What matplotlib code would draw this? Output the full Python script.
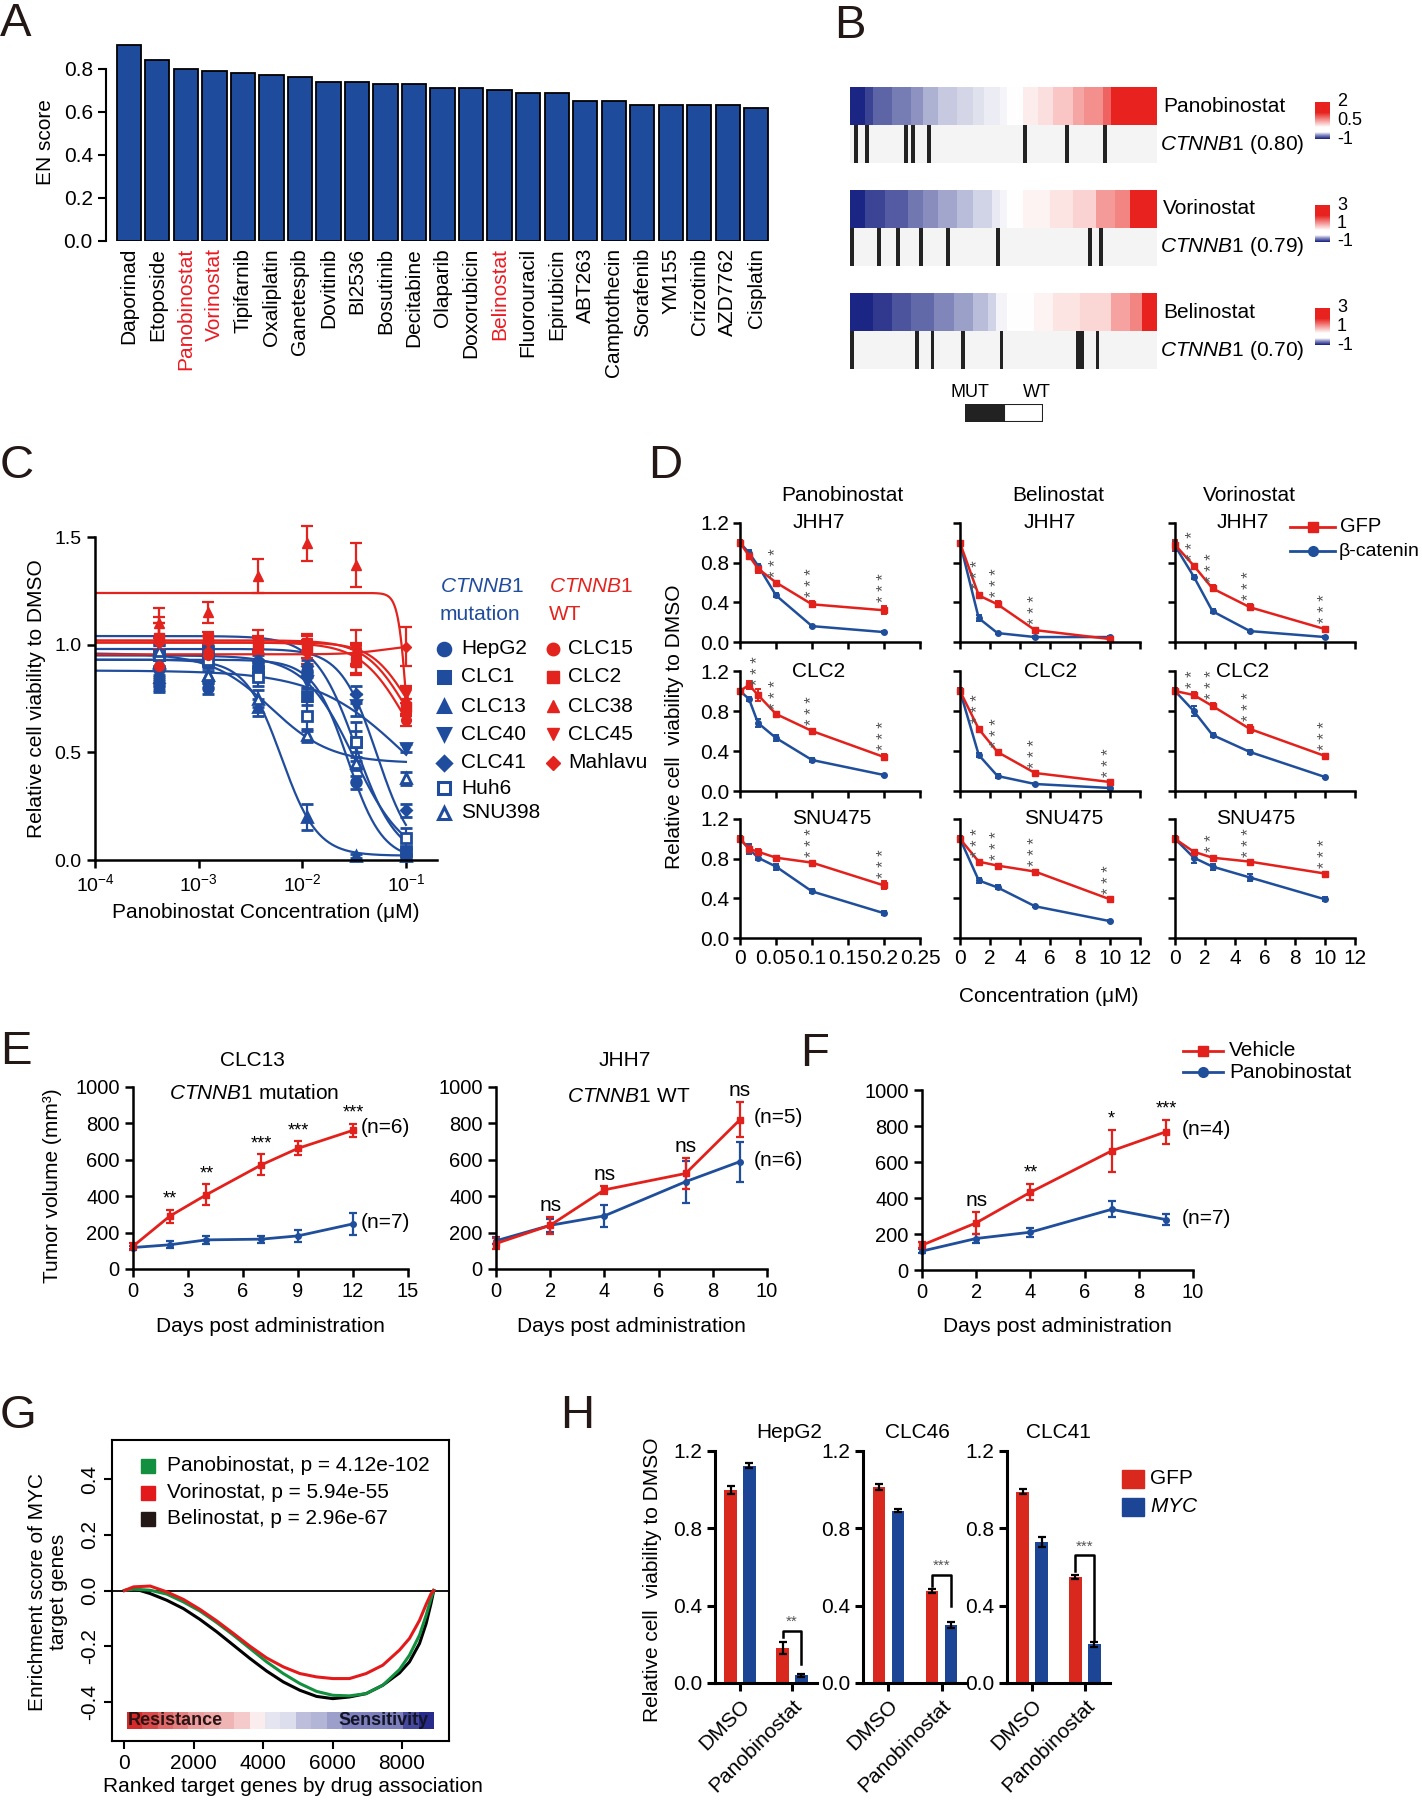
import numpy as np
import matplotlib
matplotlib.use('Agg')
import matplotlib.pyplot as plt
from matplotlib.colors import LinearSegmentedColormap, ListedColormap, TwoSlopeNorm
from matplotlib.lines import Line2D
from matplotlib.patches import Rectangle
from matplotlib.ticker import NullLocator

plt.rcParams['font.family'] = ['Liberation Sans', 'DejaVu Sans']
plt.rcParams['mathtext.fontset'] = 'custom'
plt.rcParams['mathtext.rm'] = 'Liberation Sans'
plt.rcParams['mathtext.it'] = 'Liberation Sans:italic'
plt.rcParams['mathtext.bf'] = 'Liberation Sans:bold'
plt.rcParams['font.size'] = 15
plt.rcParams['axes.linewidth'] = 1.8
plt.rcParams['xtick.major.width'] = 1.8
plt.rcParams['ytick.major.width'] = 1.8
plt.rcParams['xtick.major.size'] = 5
plt.rcParams['ytick.major.size'] = 5
plt.rcParams['xtick.labelsize'] = 15
plt.rcParams['ytick.labelsize'] = 15

RED = '#e3231d'
BLUE = '#1f4c9c'

# ---------------- data ----------------
# A: elastic net scores
a_drugs = ['Daporinad', 'Etoposide', 'Panobinostat', 'Vorinostat', 'Tipifarnib', 'Oxaliplatin',
           'Ganetespib', 'Dovitinib', 'BI2536', 'Bosutinib', 'Decitabine', 'Olaparib',
           'Doxorubicin', 'Belinostat', 'Fluorouracil', 'Epirubicin', 'ABT263', 'Camptothecin',
           'Sorafenib', 'YM155', 'Crizotinib', 'AZD7762', 'Cisplatin']
a_scores = [0.91, 0.84, 0.80, 0.79, 0.78, 0.77, 0.76, 0.74, 0.74, 0.73, 0.73, 0.71,
            0.71, 0.70, 0.69, 0.69, 0.65, 0.65, 0.63, 0.63, 0.63, 0.63, 0.62]
a_red = ['Panobinostat', 'Vorinostat', 'Belinostat']

# B: sorted drug response per cell line + CTNNB1 status
b_drugs = ['Panobinostat', 'Vorinostat', 'Belinostat']
b_corr = [0.80, 0.79, 0.70]
b_scale = [(-1, 0.5, 2), (-1, 1, 3), (-1, 1, 3)]
b_pano = [-1.0, -1.0, -1.0, -1.0, -0.78, -0.78, -0.55, -0.55, -0.55, -0.55,
          -0.55, -0.4, -0.4, -0.4, -0.4, -0.4, -0.25, -0.25, -0.25, -0.03,
          -0.03, -0.03, -0.03, 0.13, 0.13, 0.13, 0.13, 0.13, 0.23, 0.23,
          0.23, 0.23, 0.3, 0.3, 0.3, 0.38, 0.38, 0.38, 0.38, 0.44,
          0.44, 0.5, 0.5, 0.5, 0.5, 0.62, 0.62, 0.62, 0.62, 0.72,
          0.72, 0.72, 0.72, 0.88, 0.88, 0.88, 0.88, 0.88, 1.1, 1.1,
          1.1, 1.25, 1.25, 1.25, 1.25, 1.25, 1.55, 1.55, 2.0, 2.0,
          2.0, 2.0, 2.0, 2.0, 2.0, 2.0, 2.0, 2.0, 2.0, 2.0]
b_vori = [-1.0, -1.0, -1.0, -1.0, -0.7, -0.7, -0.7, -0.7, -0.7, -0.5,
          -0.5, -0.5, -0.5, -0.5, -0.5, -0.24, -0.24, -0.24, -0.24, -0.04,
          -0.04, -0.04, -0.04, 0.2, 0.2, 0.2, 0.2, 0.2, 0.4, 0.4,
          0.4, 0.4, 0.6, 0.6, 0.6, 0.6, 0.6, 0.8, 0.8, 0.92,
          0.92, 1.0, 1.0, 1.0, 1.0, 1.1, 1.1, 1.1, 1.1, 1.1,
          1.1, 1.1, 1.24, 1.24, 1.24, 1.24, 1.24, 1.24, 1.4, 1.4,
          1.4, 1.4, 1.4, 1.4, 1.9, 1.9, 1.9, 1.9, 1.9, 2.1,
          2.1, 2.1, 2.1, 3.0, 3.0, 3.0, 3.0, 3.0, 3.0, 3.0]
b_beli = [-1.0, -1.0, -1.0, -1.0, -1.0, -1.0, -0.8, -0.8, -0.8, -0.8,
          -0.8, -0.56, -0.56, -0.56, -0.56, -0.56, -0.36, -0.36, -0.36, -0.36,
          -0.36, -0.36, -0.1, -0.1, -0.1, -0.1, -0.1, 0.14, 0.14, 0.14,
          0.14, 0.14, 0.4, 0.4, 0.4, 0.4, 0.6, 0.6, 0.9, 0.9,
          0.9, 1.0, 1.0, 1.0, 1.0, 1.0, 1.0, 1.0, 1.1, 1.1,
          1.1, 1.1, 1.1, 1.24, 1.24, 1.24, 1.24, 1.24, 1.24, 1.24,
          1.36, 1.36, 1.36, 1.36, 1.36, 1.36, 1.36, 1.36, 1.84, 1.84,
          1.84, 1.84, 1.84, 2.1, 2.1, 2.1, 3.0, 3.0, 3.0, 3.0]
b_mut_pano = [1, 4, 14, 16, 20, 45, 56, 66]
b_mut_vori = [0, 7, 12, 18, 25, 38, 62, 65]
b_mut_beli = [0, 17, 21, 29, 39, 59, 60, 64]

# C: dose response (mean, sd) and fitted 4PL parameters [top, bottom, logIC50, hill]
c_conc = [0.00041, 0.00123, 0.0037, 0.0111, 0.0333, 0.1]
c_mut_names = ['HepG2', 'CLC1', 'CLC13', 'CLC40', 'CLC41', 'Huh6', 'SNU398']
c_mut_markers = ['o', 's', '^', 'v', 'D', 's', '^']
c_mut_filled = [True, True, True, True, True, False, False]
c_mut_vals = [[0.81, 0.80, 0.92, 0.88, 0.36, 0.03],
              [0.95, 0.97, 0.88, 0.76, 0.55, 0.04],
              [0.92, 0.86, 0.71, 0.20, 0.02, 0.02],
              [0.86, 0.92, 0.90, 0.83, 0.72, 0.52],
              [0.82, 0.93, 0.93, 0.90, 0.77, 0.23],
              [0.95, 0.93, 0.85, 0.67, 0.55, 0.10],
              [0.97, 0.86, 0.75, 0.58, 0.45, 0.38]]
c_mut_err = [[0.03, 0.03, 0.03, 0.03, 0.03, 0.02],
             [0.05, 0.04, 0.03, 0.04, 0.05, 0.02],
             [0.06, 0.04, 0.04, 0.06, 0.01, 0.01],
             [0.03, 0.03, 0.03, 0.03, 0.05, 0.02],
             [0.03, 0.03, 0.03, 0.03, 0.04, 0.03],
             [0.05, 0.05, 0.04, 0.07, 0.09, 0.05],
             [0.04, 0.04, 0.04, 0.03, 0.03, 0.03]]
c_mut_fit = [[0.93, 0.0, -1.56, 2.6],
             [1.04, 0.0, -1.48, 2.2],
             [0.93, 0.02, -2.2, 2.5],
             [0.88, 0.10, -1.0, 1.0],
             [0.98, 0.0, -1.28, 2.5],
             [0.95, 0.0, -1.5, 1.8],
             [0.96, 0.45, -2.3, 1.5]]
c_wt_names = ['CLC15', 'CLC2', 'CLC38', 'CLC45', 'Mahlavu']
c_wt_markers = ['o', 's', '^', 'v', 'D']
c_wt_vals = [[0.90, 0.95, 1.02, 1.00, 0.95, 0.65],
             [1.03, 1.03, 1.00, 0.98, 0.92, 0.71],
             [1.10, 1.15, 1.32, 1.47, 1.37, 0.75],
             [1.02, 1.01, 1.00, 1.01, 0.97, 0.77],
             [1.01, 0.97, 0.98, 0.96, 0.96, 0.99]]
c_wt_err = [[0.08, 0.04, 0.05, 0.04, 0.05, 0.03],
            [0.07, 0.03, 0.03, 0.04, 0.06, 0.04],
            [0.07, 0.05, 0.08, 0.08, 0.10, 0.05],
            [0.08, 0.03, 0.04, 0.04, 0.10, 0.04],
            [0.12, 0.04, 0.05, 0.05, 0.05, 0.09]]
c_wt_fit = [[1.01, 0.30, -1.0, 2.0],
            [1.02, 0.40, -1.0, 2.2],
            [1.24, 0.0, -0.98, 10.0],
            [1.01, 0.50, -1.0, 2.5],
            [0.955, 1.0, -1.2, 2.5]]

# D: viability GFP vs beta-catenin
d_drugs = ['Panobinostat', 'Belinostat', 'Vorinostat']
d_cells = ['JHH7', 'CLC2', 'SNU475']
d_conc = [[0, 0.0125, 0.025, 0.05, 0.1, 0.2], [0, 1.25, 2.5, 5, 10], [0, 1.25, 2.5, 5, 10]]
d_gfp = [[[1.0, 0.87, 0.74, 0.60, 0.38, 0.32], [1.0, 0.47, 0.38, 0.12, 0.03], [0.98, 0.77, 0.54, 0.35, 0.13]],
         [[1.0, 1.06, 0.96, 0.77, 0.60, 0.34], [1.0, 0.62, 0.39, 0.18, 0.09], [1.0, 0.96, 0.85, 0.62, 0.35]],
         [[1.0, 0.90, 0.87, 0.81, 0.76, 0.53], [1.0, 0.77, 0.73, 0.67, 0.39], [1.0, 0.87, 0.81, 0.77, 0.65]]]
d_bcat = [[[1.0, 0.90, 0.77, 0.47, 0.16, 0.10], [1.0, 0.24, 0.09, 0.05, 0.05], [0.97, 0.66, 0.31, 0.11, 0.05]],
          [[1.0, 0.92, 0.68, 0.53, 0.31, 0.16], [1.0, 0.36, 0.15, 0.07, 0.03], [1.0, 0.80, 0.56, 0.39, 0.14]],
          [[1.0, 0.90, 0.81, 0.72, 0.47, 0.25], [1.0, 0.58, 0.51, 0.32, 0.17], [1.0, 0.81, 0.72, 0.61, 0.39]]]
d_gfp_err = [[[0.03, 0.02, 0.04, 0.02, 0.03, 0.04], [0.02, 0.02, 0.03, 0.02, 0.01], [0.05, 0.02, 0.03, 0.03, 0.02]],
             [[0.02, 0.04, 0.06, 0.01, 0.02, 0.03], [0.03, 0.02, 0.01, 0.01, 0.01], [0.03, 0.03, 0.03, 0.04, 0.02]],
             [[0.03, 0.03, 0.03, 0.02, 0.02, 0.04], [0.03, 0.01, 0.02, 0.02, 0.01], [0.03, 0.02, 0.02, 0.01, 0.02]]]
d_bcat_err = [[[0.03, 0.03, 0.02, 0.02, 0.01, 0.01], [0.02, 0.03, 0.01, 0.01, 0.01], [0.05, 0.02, 0.02, 0.01, 0.01]],
              [[0.02, 0.02, 0.04, 0.03, 0.02, 0.01], [0.03, 0.02, 0.02, 0.01, 0.01], [0.03, 0.05, 0.02, 0.02, 0.01]],
              [[0.03, 0.05, 0.02, 0.03, 0.02, 0.02], [0.03, 0.03, 0.02, 0.01, 0.01], [0.03, 0.05, 0.03, 0.04, 0.02]]]
d_stars = [[[0, 0, 0, 3, 3, 3], [0, 3, 3, 3, 0], [0, 3, 3, 3, 3]],
           [[0, 0, 3, 3, 3, 3], [0, 3, 3, 3, 3], [0, 2, 3, 3, 3]],
           [[0, 0, 0, 0, 3, 3], [0, 3, 3, 3, 3], [0, 0, 2, 3, 3]]]

# E / F: tumor volume
e1_days = [0, 2, 4, 7, 9, 12]
e1_veh = [125, 290, 408, 572, 663, 762]
e1_veh_err = [18, 35, 58, 58, 38, 35]
e1_pano = [118, 133, 160, 164, 182, 248]
e1_pano_err = [8, 20, 20, 20, 35, 62]
e1_sig = ['', '**', '**', '***', '***', '***']
e1_n = ['(n=6)', '(n=7)']
e2_days = [0, 2, 4, 7, 9]
e2_veh = [140, 240, 435, 525, 820]
e2_veh_err = [30, 45, 22, 85, 95]
e2_pano = [155, 240, 292, 480, 590]
e2_pano_err = [20, 35, 60, 115, 110]
e2_sig = ['', 'ns', 'ns', 'ns', 'ns']
e2_n = ['(n=5)', '(n=6)']
f_days = [0, 2, 4, 7, 9]
f_veh = [138, 262, 432, 662, 768]
f_veh_err = [18, 60, 45, 115, 68]
f_pano = [105, 175, 210, 337, 280]
f_pano_err = [10, 25, 25, 45, 30]
f_sig = ['', 'ns', '**', '*', '***']
f_n = ['(n=4)', '(n=7)']

# G: running enrichment score
g_rank = [0, 260, 740, 1220, 1700, 2180, 2660, 3140, 3620, 4100, 4580, 5060, 5540,
          6010, 6490, 6970, 7450, 7930, 8220, 8510, 8700, 8840, 8920]
g_pano = [0.0, 0.005, 0.001, -0.013, -0.041, -0.074, -0.115, -0.16, -0.208, -0.256, -0.298, -0.334,
          -0.362, -0.376, -0.378, -0.37, -0.34, -0.284, -0.232, -0.16, -0.089, -0.029, 0.0]
g_vori = [0.0, 0.013, 0.016, -0.005, -0.032, -0.068, -0.109, -0.154, -0.2, -0.242, -0.274, -0.298,
          -0.31, -0.316, -0.316, -0.298, -0.268, -0.214, -0.172, -0.107, -0.05, -0.012, 0.0]
g_beli = [0.0, 0.007, -0.011, -0.035, -0.065, -0.104, -0.148, -0.196, -0.244, -0.289, -0.328, -0.358,
          -0.38, -0.388, -0.382, -0.37, -0.34, -0.296, -0.256, -0.19, -0.119, -0.047, 0.0]
g_labels = ['Panobinostat, p = 4.12e-102', 'Vorinostat, p = 5.94e-55', 'Belinostat, p = 2.96e-67']
g_bar = [-1.0, -0.85, -0.7, -0.6, -0.45, -0.4, -0.35, -0.25, -0.08, 0.12,
         0.15, 0.3, 0.35, 0.45, 0.6, 0.6, 0.6, 0.6, 0.85, 1.0]

# H: MYC rescue
h_cells = ['HepG2', 'CLC46', 'CLC41']
h_groups = ['DMSO', 'Panobinostat']
h_gfp = [[1.00, 0.18], [1.015, 0.475], [0.99, 0.55]]
h_gfp_err = [[0.02, 0.03], [0.015, 0.012], [0.012, 0.01]]
h_myc = [[1.125, 0.04], [0.892, 0.30], [0.73, 0.20]]
h_myc_err = [[0.012, 0.008], [0.008, 0.015], [0.025, 0.012]]
h_brk_top = [0.27, 0.56, 0.66]
h_brk_left = [0.24, 0.50, 0.58]
h_brk_right = [0.10, 0.40, 0.22]
h_sig = ['**', '***', '***']

# ---------------- figure ----------------
W, H = 1422, 1800
fig = plt.figure(figsize=(W / 100, H / 100), dpi=100)


def box(l, t, r, b):
    return fig.add_axes([l / W, 1 - b / H, (r - l) / W, (b - t) / H])


def ftext(x, y, s, **kw):
    return fig.text(x / W, 1 - y / H, s, **kw)


def fmark(x, y, **kw):
    fig.add_artist(Line2D([x / W], [1 - y / H], transform=fig.transFigure, **kw))


def fline(x0, x1, y, mk, color):
    fig.add_artist(Line2D([x0 / W, x1 / W], [1 - y / H, 1 - y / H], transform=fig.transFigure,
                          color=color, lw=2))
    fmark((x0 + x1) / 2, y, marker=mk, color=color, ms=7, ls='')


for lab, x, y in [('A', 0, 2), ('B', 834, 4), ('C', 0, 444), ('D', 648, 444),
                  ('E', 0, 1030), ('F', 800, 1032), ('G', 0, 1394), ('H', 560, 1394)]:
    ftext(x, y, lab, fontsize=34, va='top', ha='left', color='#231815')

# ---- A ----
axA = box(106, 43, 772, 241)
xa = np.arange(len(a_drugs))
axA.bar(xa, a_scores, width=0.85, color='#1f4b9c', edgecolor='black', linewidth=1.3)
axA.set_xlim(-0.8, len(a_drugs) - 0.45)
axA.set_ylim(0, 0.92)
axA.set_yticks([0, 0.2, 0.4, 0.6, 0.8])
axA.set_yticklabels(['0.0', '0.2', '0.4', '0.6', '0.8'])
axA.set_xticks(xa)
axA.set_xticklabels(a_drugs, rotation=90)
for lbl in axA.get_xticklabels():
    if lbl.get_text() in a_red:
        lbl.set_color('#ea1a22')
axA.tick_params(axis='x', length=0, pad=5)
axA.tick_params(axis='y', length=6, width=1.5)
for s in ['top', 'right', 'bottom']:
    axA.spines[s].set_visible(False)
axA.spines['left'].set_bounds(0, 0.8)
axA.spines['left'].set_linewidth(1.5)
axA.set_ylabel('EN score', labelpad=6)

# ---- B ----
heat_cmap = LinearSegmentedColormap.from_list('heat', ['#1b2583', '#ffffff', '#e8221e'])
cb_cmap = LinearSegmentedColormap.from_list(
    'cb', [(0, '#1b2583'), (0.1, '#8a8dc4'), (0.18, '#ffffff'), (0.32, '#ffffff'),
           (0.72, '#e8221e'), (1, '#e8221e')])
mut_cmap = ListedColormap(['#f4f4f4', '#222222'])
b_tops = [87, 190, 293]
for name, vals, muts, corr, sc, t in zip(b_drugs, [b_pano, b_vori, b_beli],
                                        [b_mut_pano, b_mut_vori, b_mut_beli], b_corr, b_scale, b_tops):
    ax = box(850, t, 1156, t + 38)
    ax.imshow(np.array(vals)[None, :], aspect='auto', cmap=heat_cmap,
              norm=TwoSlopeNorm(vmin=sc[0], vcenter=sc[1], vmax=sc[2]), interpolation='nearest')
    ax.set_axis_off()
    axm = box(850, t + 38, 1156, t + 76)
    flags = np.zeros(len(vals))
    flags[muts] = 1
    axm.imshow(flags[None, :], aspect='auto', cmap=mut_cmap, vmin=0, vmax=1, interpolation='nearest')
    axm.set_axis_off()
    ftext(1163, t + 19, name, va='center')
    ftext(1160, t + 57, r'$\mathit{CTNNB1}$ (%.2f)' % corr, va='center')
    cb = box(1315, t + 15, 1330, t + 52)
    cb.imshow(np.linspace(1, 0, 60)[:, None], aspect='auto', cmap=cb_cmap, vmin=0, vmax=1)
    cb.set_axis_off()
    for v, yy in zip(sc[::-1], [t + 15, t + 33.5, t + 52]):
        ftext(1337, yy, '%g' % v, va='center', fontsize=13)

axl = box(965, 404, 1043, 422)
axl.add_patch(Rectangle((0, 0), 1, 1, facecolor='#222222', edgecolor='#222222', lw=1.5))
axl.add_patch(Rectangle((1, 0), 1, 1, facecolor='white', edgecolor='#222222', lw=1.5))
axl.set_xlim(0, 2)
axl.set_ylim(0, 1)
axl.set_axis_off()
ftext(970, 393, 'MUT', ha='center', va='center', fontsize=13)
ftext(1037, 393, 'WT', ha='center', va='center', fontsize=13)

# ---- C ----
def dose_curve(x, p):
    top, bottom, logic50, hill = p
    return bottom + (top - bottom) / (1 + 10 ** ((np.log10(x) - logic50) * hill))


def msize(mk, base):
    return base - 1.5 if mk == 'D' else base


axC = box(95, 537, 437, 860)
xfit = np.logspace(-4, -1, 300)
for vals, err, fit, mk, filled in zip(c_mut_vals, c_mut_err, c_mut_fit, c_mut_markers, c_mut_filled):
    axC.plot(xfit, dose_curve(xfit, fit), color=BLUE, lw=1.6)
    axC.errorbar(c_conc, vals, yerr=err, fmt=mk, color=BLUE, mfc=BLUE if filled else 'white',
                 mec=BLUE, ms=msize(mk, 7), mew=2, capsize=4, elinewidth=1.6, capthick=1.6, clip_on=False)
for vals, err, fit, mk in zip(c_wt_vals, c_wt_err, c_wt_fit, c_wt_markers):
    axC.plot(xfit, dose_curve(xfit, fit), color=RED, lw=1.6)
    axC.errorbar(c_conc, vals, yerr=err, fmt=mk, color=RED, ms=msize(mk, 7), capsize=4,
                 elinewidth=1.6, capthick=1.6, clip_on=False)
axC.set_xscale('log')
axC.set_xlim(1e-4, 10 ** -0.7)
axC.set_ylim(0, 1.5)
axC.set_yticks([0, 0.5, 1.0, 1.5])
axC.set_yticklabels(['0.0', '0.5', '1.0', '1.5'])
axC.set_xticks([1e-4, 1e-3, 1e-2, 1e-1])
axC.set_xticklabels(['$10^{-4}$', '$10^{-3}$', '$10^{-2}$', '$10^{-1}$'])
axC.xaxis.set_minor_locator(NullLocator())
axC.spines['top'].set_visible(False)
axC.spines['right'].set_visible(False)
axC.tick_params(labelsize=14, length=6)
axC.set_ylabel('Relative cell viability to DMSO', labelpad=6)
axC.set_xlabel('Panobinostat Concentration (μM)', labelpad=6)

ftext(440, 587, r'$\mathit{CTNNB1}$', color=BLUE, va='center')
ftext(440, 615, 'mutation', color=BLUE, va='center')
ftext(549, 587, r'$\mathit{CTNNB1}$', color=RED, va='center')
ftext(549, 615, 'WT', color=RED, va='center')
c_leg_y = [649, 677, 706, 734, 763, 788, 813]
for name, mk, filled, yy in zip(c_mut_names, c_mut_markers, c_mut_filled, c_leg_y):
    fmark(444, yy, marker=mk, color=BLUE, mfc=BLUE if filled else 'white', mec=BLUE, mew=2.2,
          ms=msize(mk, 9), ls='')
    ftext(461, yy, name, va='center')
for name, mk, yy in zip(c_wt_names, c_wt_markers, c_leg_y):
    fmark(553, yy, marker=mk, color=RED, ms=msize(mk, 9), ls='')
    ftext(568, yy, name, va='center')

# ---- D ----
d_x0 = [740, 960, 1175]
d_rows = [(523, 642), (671, 791), (819, 938)]
d_xmax = [0.25, 12, 12]
d_xticks = [[0, 0.05, 0.1, 0.15, 0.2, 0.25], [0, 2, 4, 6, 8, 10, 12], [0, 2, 4, 6, 8, 10, 12]]
d_cell_x = [0.29, 0.355, 0.23]
d_drug_x = [0.23, 0.29, 0.155]
D_RED = '#e3211c'
D_BLUE = '#1f4e9a'
for r in range(3):
    for c in range(3):
        ax = box(d_x0[c], d_rows[r][0], d_x0[c] + 180, d_rows[r][1])
        x = d_conc[c]
        g, gE = d_gfp[r][c], d_gfp_err[r][c]
        b, bE = d_bcat[r][c], d_bcat_err[r][c]
        ax.errorbar(x, b, yerr=bE, color=D_BLUE, marker='o', ms=4, lw=1.8, capsize=2,
                    elinewidth=1.4, capthick=1.4, clip_on=False)
        ax.errorbar(x, g, yerr=gE, color=D_RED, marker='s', ms=4, lw=1.8, capsize=2,
                    elinewidth=1.4, capthick=1.4, clip_on=False)
        for xi, gi, ge, bi, be, n in zip(x, g, gE, b, bE, d_stars[r][c]):
            if n:
                ax.text(xi, max(gi + ge, bi + be) + 0.04, ' '.join('*' * n), rotation=90, ha='center',
                        va='bottom', fontsize=12, color='#555555')
        ax.set_xlim(0, d_xmax[c])
        ax.set_ylim(0, 1.2)
        ax.set_xticks(d_xticks[c])
        ax.set_xticklabels(['%g' % v for v in d_xticks[c]])
        ax.set_yticks([0, 0.4, 0.8, 1.2])
        ax.set_yticklabels(['0.0', '0.4', '0.8', '1.2'])
        ax.spines['top'].set_visible(False)
        ax.spines['right'].set_visible(False)
        ax.tick_params(length=5, labelleft=(c == 0), labelbottom=(r == 2), pad=3)
        ax.text(d_cell_x[c], 1.0, d_cells[r], transform=ax.transAxes, ha='left', va='center')
        if r == 0:
            ax.text(d_drug_x[c], 1.235, d_drugs[c], transform=ax.transAxes, ha='left', va='center')
fline(1290, 1335, 527, 's', D_RED)
ftext(1340, 527, 'GFP', va='center', fontsize=14.5)
fline(1290, 1335, 551, 'o', D_BLUE)
ftext(1339, 551, 'β-catenin', va='center', fontsize=14)
ftext(1049, 996, 'Concentration (μM)', ha='center', va='center')
ftext(675, 727, 'Relative cell  viability to DMSO', rotation=90, ha='center', va='center')

# ---- E / F ----
def tumor_panel(l, t, r, b, days, veh, veh_e, pano, pano_e, sig, nlab, xmax, xstep, nx):
    ax = box(l, t, r, b)
    ax.errorbar(days, pano, yerr=pano_e, color=D_BLUE, marker='o', ms=4, lw=2, capsize=3,
                elinewidth=1.6, capthick=1.6, clip_on=False)
    ax.errorbar(days, veh, yerr=veh_e, color=D_RED, marker='s', ms=4, lw=2, capsize=3,
                elinewidth=1.6, capthick=1.6, clip_on=False)
    for d, v, e, s in zip(days, veh, veh_e, sig):
        if s:
            ax.text(d, v + e + 12, s, ha='center', va='bottom',
                    fontsize=15 if s == 'ns' else 13)
    ax.text(nx, veh[-1] + 15, nlab[0], va='center')
    ax.text(nx, pano[-1] + 5, nlab[1], va='center')
    ax.set_xlim(0, xmax)
    ax.set_ylim(0, 1000)
    ax.set_xticks(np.arange(0, xmax + 1, xstep))
    ax.set_yticks([0, 200, 400, 600, 800, 1000])
    ax.spines['top'].set_visible(False)
    ax.spines['right'].set_visible(False)
    ax.tick_params(length=6, labelsize=14.5)
    ftext((l + r) / 2, 1327, 'Days post administration', ha='center', va='center')
    return ax


axE1 = tumor_panel(133, 1087, 408, 1269, e1_days, e1_veh, e1_veh_err, e1_pano, e1_pano_err,
                   e1_sig, e1_n, 15, 3, 12.4)
axE1.text(0.44, 0.967, r'$\mathit{CTNNB1}$ mutation', transform=axE1.transAxes, ha='center', va='center')
ftext(252, 1061, 'CLC13', ha='center', va='center')
ftext(53, 1186, 'Tumor volume (mm³)', rotation=90, ha='center', va='center')

axE2 = tumor_panel(496, 1087, 767, 1269, e2_days, e2_veh, e2_veh_err, e2_pano, e2_pano_err,
                   e2_sig, e2_n, 10, 2, 9.5)
axE2.text(0.49, 0.95, r'$\mathit{CTNNB1}$ WT', transform=axE2.transAxes, ha='center', va='center')
ftext(625, 1061, 'JHH7', ha='center', va='center')

axF = tumor_panel(922, 1090, 1193, 1270, f_days, f_veh, f_veh_err, f_pano, f_pano_err,
                  f_sig, f_n, 10, 2, 9.6)
fline(1183, 1223, 1051, 's', D_RED)
ftext(1229, 1051, 'Vehicle', va='center')
fline(1183, 1223, 1072, 'o', D_BLUE)
ftext(1229, 1072, 'Panobinostat', va='center')

# ---- G ----
G_GREEN = '#12903f'
G_RED = '#e31a1c'
axG = box(112, 1440, 449, 1741)
axG.axhline(0, color='black', lw=1.3)
axG.plot(g_rank, g_beli, color='black', lw=2.2)
axG.plot(g_rank, g_pano, color=G_GREEN, lw=2.2)
axG.plot(g_rank, g_vori, color=G_RED, lw=2.2)
g_cmap = LinearSegmentedColormap.from_list('gbar', ['#d42a2a', '#ffffff', '#262b8c'])
axG.imshow(np.array(g_bar)[None, :], extent=(67, 8920, -0.496, -0.436), aspect='auto',
           cmap=g_cmap, vmin=-1, vmax=1, interpolation='nearest')
axG.text(80, -0.468, 'Resistance', fontweight='bold', fontsize=13, ha='left', va='center', color='#2a1414')
axG.text(8780, -0.468, 'Sensitivity', fontweight='bold', fontsize=13, ha='right', va='center', color='#141428')
axG.set_xlim(-360, 9360)
axG.set_ylim(-0.54, 0.54)
axG.set_xticks([0, 2000, 4000, 6000, 8000])
axG.set_yticks([-0.4, -0.2, 0, 0.2, 0.4])
axG.set_yticklabels(['-0.4', '-0.2', '0.0', '0.2', '0.4'], rotation=90, va='center')
axG.tick_params(length=6, width=1.5)
for s in axG.spines.values():
    s.set_linewidth(1.5)
for lab, col, yy in zip(g_labels, [G_GREEN, G_RED, '#231815'], [0.914, 0.824, 0.738]):
    axG.plot(0.107, yy, marker='s', color=col, ms=10, transform=axG.transAxes, clip_on=False)
    axG.text(0.163, yy, lab, transform=axG.transAxes, va='center')
ftext(48, 1592, 'Enrichment score of MYC\ntarget genes', rotation=90, ha='center', va='center',
      multialignment='center', linespacing=1.1)
ftext(293, 1787, 'Ranked target genes by drug association', ha='center', va='center')

# ---- H ----
H_RED = '#d9281e'
H_BLUE = '#1c4595'
h_left = [715, 863, 1007]
h_right = [817, 967, 1110]
h_title_x = [789, 917, 1058]
xg = np.arange(len(h_groups))
for i in range(3):
    ax = box(h_left[i], 1451, h_right[i], 1683)
    ekw = dict(elinewidth=1.6, capthick=1.6, ecolor='black')
    ax.bar(xg - 0.18, h_gfp[i], width=0.24, color=H_RED, yerr=h_gfp_err[i], capsize=3, error_kw=ekw)
    ax.bar(xg + 0.18, h_myc[i], width=0.24, color=H_BLUE, yerr=h_myc_err[i], capsize=3, error_kw=ekw)
    xl, xr = 1 - 0.18, 1 + 0.18
    ax.plot([xl, xl, xr, xr], [h_brk_left[i], h_brk_top[i], h_brk_top[i], h_brk_right[i]],
            color='black', lw=1.8)
    ax.text(1, h_brk_top[i] + 0.008, h_sig[i], ha='center', va='bottom', fontsize=11, color='#555555')
    ax.set_xlim(-0.48, 1.48)
    ax.set_ylim(0, 1.2)
    ax.set_yticks([0, 0.4, 0.8, 1.2])
    ax.set_yticklabels(['0.0', '0.4', '0.8', '1.2'])
    ax.set_xticks(xg)
    ax.set_xticklabels(h_groups, rotation=45, ha='right', rotation_mode='anchor')
    ax.spines['top'].set_visible(False)
    ax.spines['right'].set_visible(False)
    for s in ['left', 'bottom']:
        ax.spines[s].set_linewidth(2.2)
    ax.tick_params(length=6, width=2.2, pad=3)
    ftext(h_title_x[i], 1432, h_cells[i], ha='center', va='center')
ftext(653, 1580, 'Relative cell  viability to DMSO', rotation=90, ha='center', va='center')
fig.add_artist(Rectangle((1122 / W, 1 - 1488 / H), 22 / W, 18 / H, color=H_RED, transform=fig.transFigure))
fig.add_artist(Rectangle((1122 / W, 1 - 1516 / H), 22 / W, 18 / H, color=H_BLUE, transform=fig.transFigure))
ftext(1150, 1479, 'GFP', va='center')
ftext(1150, 1507, r'$\mathit{MYC}$', va='center')

fig.savefig('out.png', dpi=100)
